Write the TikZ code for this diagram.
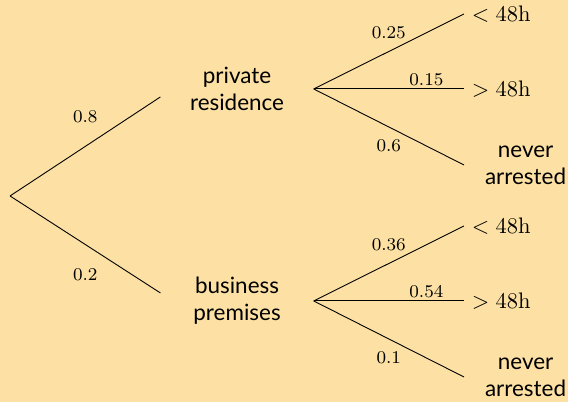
\documentclass[tikz,border=0pt]{standalone}
\usepackage{fontspec}
\newfontfamily\labfont{Lato}
\usetikzlibrary{positioning}
\definecolor{sand}{RGB}{253,225,164}

\begin{document}
\begin{tikzpicture}[
    grp/.style={align=center, text width=2.15cm, font=\labfont},
    lf/.style={anchor=west},
    nvr/.style={anchor=west, align=center, text width=1.68cm,
                font=\labfont},
    pr/.style={font=\footnotesize, inner sep=1.5pt}
  ]
    %% Background ─────────────────────────────
    \fill[sand] (-0.157,-3.224) rectangle (8.733,3.067);
    \useasboundingbox (-0.157,-3.224) rectangle (8.733,3.067);

    %% Root and first split ───────────────────
    \coordinate (root) at (0,0);
    \node[grp] (res) at (3.553,1.675)  {private\\residence};
    \node[grp] (bus) at (3.553,-1.643) {business\\premises};

    \draw (root) -- ([yshift=-1.25mm]res.west)
          node[midway,above=3.2mm,pr]{$0.8$};
    \draw (root) -- ([yshift=1.25mm]bus.west)
          node[midway,below=3.2mm,pr]{$0.2$};

    %% Private residence ──────────────────────
    \node[lf]  (lt1) at (7.105,2.848) {$<48\mathrm{h}$};
    \node[lf]  (gt1) at (7.105,1.675) {$>48\mathrm{h}$};
    \node[nvr] (nv1) at (7.105,0.485) {never\\arrested};

    \draw (res.east) -- (lt1.west) node[midway,above=1.5mm,pr]{$0.25$};
    \draw (res.east) -- (gt1.west) node[pos=0.75,above,pr]{$0.15$};
    \draw (res.east) -- (nv1.west) node[midway,below=1.5mm,pr]{$0.6$};

    %% Business premises ──────────────────────
    \node[lf]  (lt2) at (7.105,-0.470) {$<48\mathrm{h}$};
    \node[lf]  (gt2) at (7.105,-1.643) {$>48\mathrm{h}$};
    \node[nvr] (nv2) at (7.105,-2.833) {never\\arrested};

    \draw (bus.east) -- (lt2.west) node[midway,above=1.5mm,pr]{$0.36$};
    \draw (bus.east) -- (gt2.west) node[pos=0.75,above,pr]{$0.54$};
    \draw (bus.east) -- (nv2.west) node[midway,below=1.5mm,pr]{$0.1$};

\end{tikzpicture}
\end{document}
